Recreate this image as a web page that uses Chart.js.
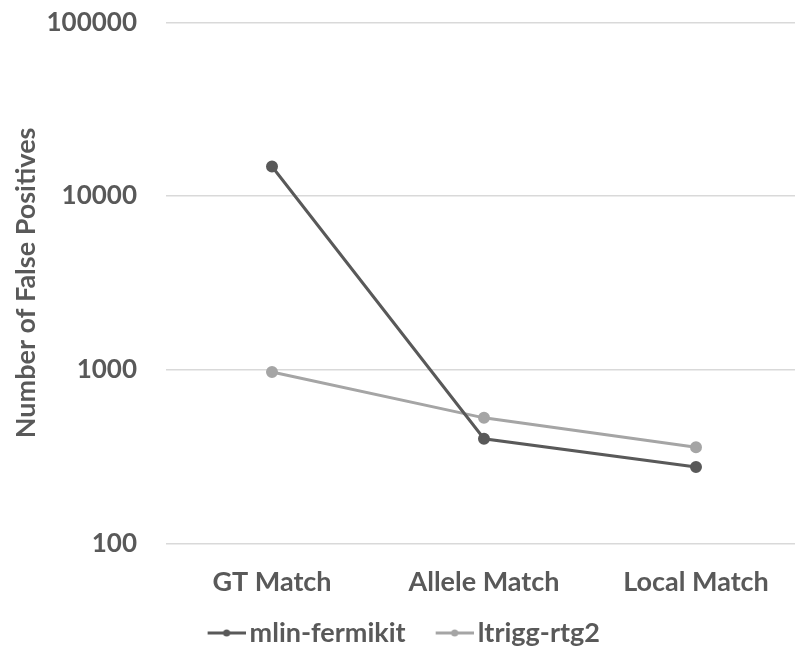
<!DOCTYPE html>
<html>
<head>
<meta charset="utf-8">
<script src="https://cdn.jsdelivr.net/npm/chart.js@4"></script>
<style>
  html, body { margin: 0; padding: 0; background: #fff; overflow: hidden; }
  #chart { display: block; }
</style>
</head>
<body>
<canvas id="chart" width="795" height="650" style="width:795px;height:650px"></canvas>
<script>
// data
const categories = ['GT Match', 'Allele Match', 'Local Match'];
const seriesNames = ['mlin-fermikit', 'ltrigg-rtg2'];
const fermikitValues = [14800, 400, 275];
const rtg2Values = [970, 528, 358];
const yTicks = [100, 1000, 10000, 100000];

const textColor = '#595959';
const fontFamily = 'Lato, "Open Sans", sans-serif';
const colors = ['#595959', '#a5a5a5'];

// line + dot marker for the legend, drawn at the right end of a wider canvas
// so that the gap between legend items comes out right
function legendMarker(color) {
    const c = document.createElement('canvas');
    c.width = 53;
    c.height = 10;
    const ctx = c.getContext('2d');
    ctx.strokeStyle = color;
    ctx.lineWidth = 3;
    ctx.beginPath();
    ctx.moveTo(15, 5);
    ctx.lineTo(53, 5);
    ctx.stroke();
    ctx.fillStyle = color;
    ctx.beginPath();
    ctx.arc(34, 5, 3.5, 0, Math.PI * 2);
    ctx.fill();
    return c;
}

function makeDataset(label, values, color) {
    return {
        label: label,
        data: values,
        borderColor: color,
        backgroundColor: color,
        pointBackgroundColor: color,
        pointBorderColor: color,
        borderWidth: 3,
        pointRadius: 4.5,
        pointStyle: 'circle'
    };
}

// the plot in the original runs a few pixels past the right edge of the picture
const widenPlot = {
    id: 'widenPlot',
    afterLayout(chart) {
        const area = chart.chartArea;
        area.right = 802;
        area.width = area.right - area.left;
        const x = chart.scales.x;
        x.right = area.right;
        x.width = x.right - x.left;
        x.configure();
    }
};

new Chart(document.getElementById('chart'), {
    type: 'line',
    data: {
        labels: categories,
        datasets: [
            makeDataset(seriesNames[0], fermikitValues, colors[0]),
            makeDataset(seriesNames[1], rtg2Values, colors[1])
        ]
    },
    plugins: [widenPlot],
    options: {
        responsive: false,
        animation: false,
        layout: { autoPadding: false, padding: { top: 22.5, right: -7, bottom: -6.5, left: 0 } },
        plugins: {
            tooltip: { enabled: false },
            legend: {
                position: 'bottom',
                labels: {
                    usePointStyle: true,
                    pointStyleWidth: 34,
                    padding: 24.5,
                    color: textColor,
                    font: { family: fontFamily, size: 27, weight: 'bold' },
                    generateLabels: chart => chart.data.datasets.map((ds, i) => ({
                        text: ds.label,
                        fontColor: textColor,
                        pointStyle: legendMarker(colors[i]),
                        strokeStyle: colors[i],
                        fillStyle: colors[i],
                        lineWidth: 0,
                        hidden: false,
                        datasetIndex: i
                    }))
                }
            }
        },
        scales: {
            x: {
                offset: true,
                grid: { display: false },
                border: { display: false },
                ticks: {
                    color: textColor,
                    padding: 15,
                    maxRotation: 0,
                    font: { family: fontFamily, size: 27, weight: 'bold' }
                },
                afterFit: scale => {
                    scale.height = 51.7;
                    scale.paddingLeft = 0;
                    scale.paddingRight = 0;
                }
            },
            y: {
                type: 'logarithmic',
                min: 100,
                max: 100000,
                border: { display: false },
                grid: { color: '#d9d9d9', lineWidth: 1.5, drawTicks: false },
                afterBuildTicks: scale => { scale.ticks = yTicks.map(v => ({ value: v })); },
                ticks: {
                    color: textColor,
                    padding: 29,
                    font: { family: fontFamily, size: 26, weight: 'bold' },
                    callback: v => String(v)
                },
                title: {
                    display: true,
                    text: 'Number of False Positives',
                    color: textColor,
                    padding: { top: 10, bottom: 0 },
                    font: { family: fontFamily, size: 27, weight: 'bold' }
                },
                afterFit: scale => {
                    scale.width = 166;
                    scale.paddingTop = 0;
                    scale.paddingBottom = 0;
                }
            }
        }
    }
});
</script>
</body>
</html>
